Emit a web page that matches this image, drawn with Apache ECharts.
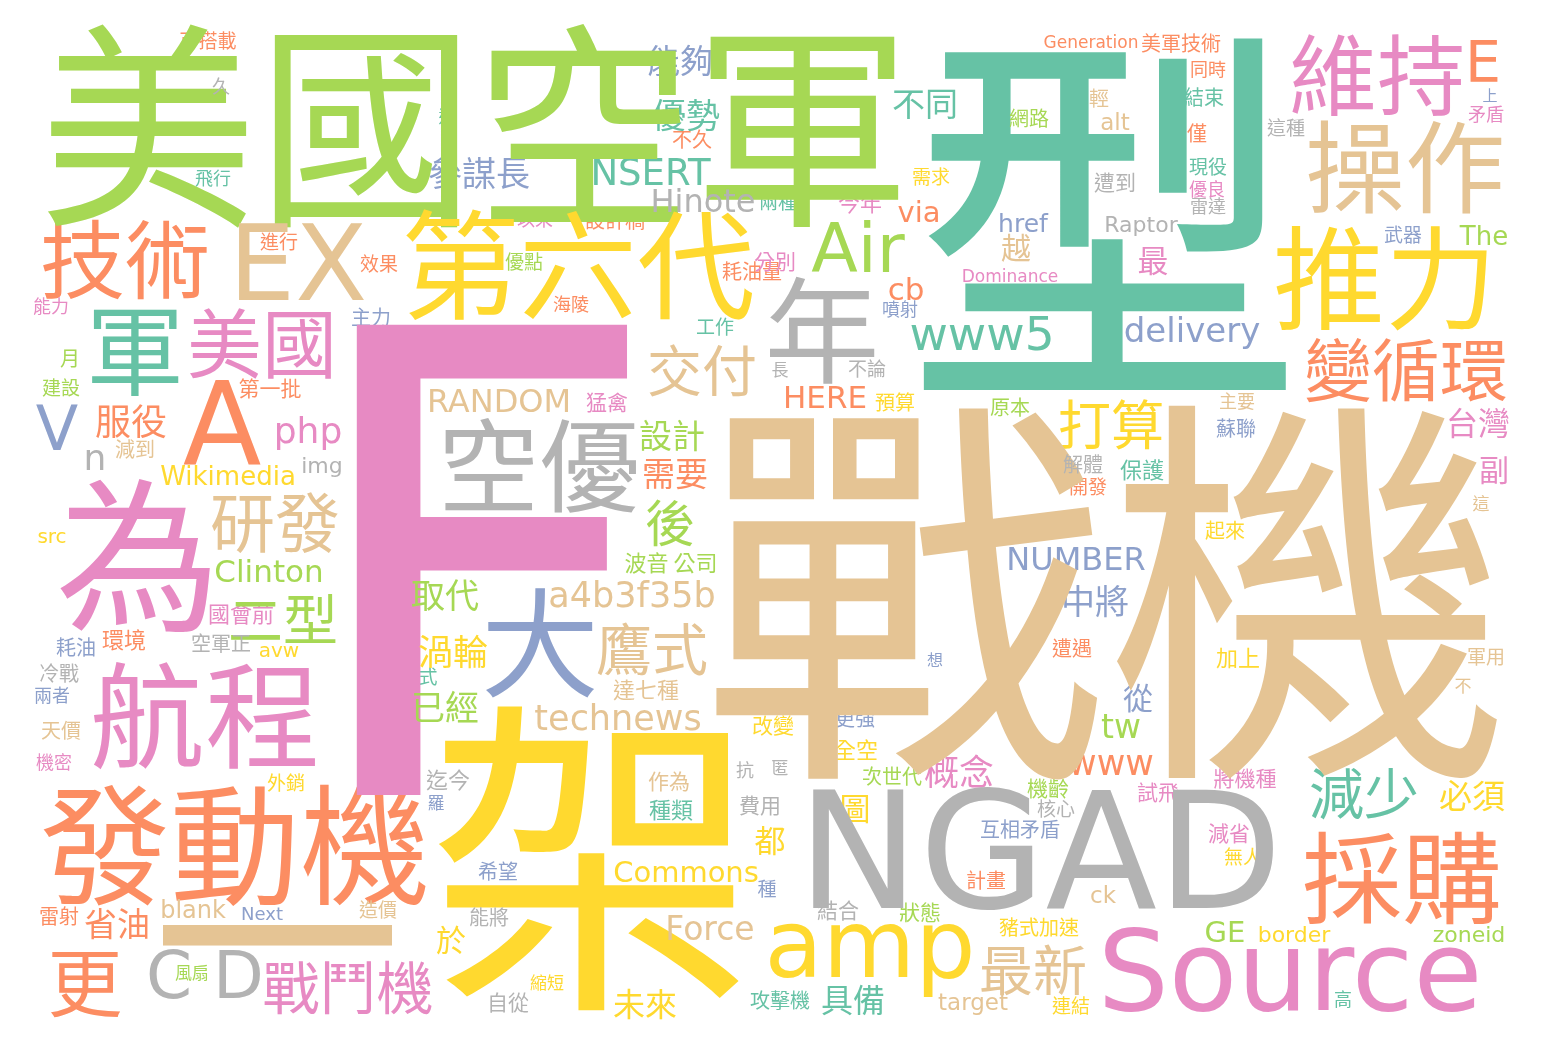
<!DOCTYPE html>
<html><head><meta charset="utf-8">
<script src="https://cdn.jsdelivr.net/npm/echarts@6/dist/echarts.min.js"></script>
<style>html,body{margin:0;padding:0;background:#fff}#c{width:1548px;height:1052px}</style>
</head><body><div id="c"></div>
<script>
// each entry: [word, weight (font px), cloudX, cloudY]
const tealWords = [
 ['型',400,1105,220],['軍',98,135,350],['飛行',18,213,178],['優勢',34,686,115],['INSERT',37,645,172],
 ['運',17,447,117],['兩種',19,778,202],['工作',19,715,327],['不同',33,925,103],['www5',47,982,333],
 ['結束',20,1204,97],['現役',19,1208,167],['保護',22,1142,470],['減少',55,1364,793],['高',18,1343,999],
 ['式',19,428,677],['種類',22,671,810],['攻擊機',20,780,1000],['具備',32,853,1000]
];
const orangeWords = [
 ['發動機',130,235,845],['技術',85,125,260],['A',115,222,424],['服役',36,131,421],['環境',22,124,640],
 ['雷射',20,59,916],['省油',33,117,923],['更',75,85,982],['第一批',21,270,388],['可搭載',19,208,41],
 ['進行',19,279,242],['效果',19,379,264],['不久',20,692,139],['設計稿',20,615,220],['耗油量',20,752,271],
 ['海陵',18,571,304],['via',29,919,212],['cb',31,906,289],['Generation',17,1091,42],['美軍技術',20,1181,43],
 ['同時',18,1208,69],['僅',20,1197,133],['E',57,1483,61],['變循環',68,1406,370],['開發',19,1088,487],
 ['HERE',31,825,397],['遭遇',20,1072,648],['www',35,1111,762],['採購',100,1402,878],['需要',33,675,473],
 ['計畫',20,986,880]
];
const blueWords = [
 ['V',62,57,428],['耗油',20,76,647],['兩者',18,52,695],['Next',18,262,914],['主力',20,371,317],
 ['能夠',33,680,60],['參謀長',34,479,173],['噴射',18,900,309],['href',25,1023,223],['delivery',34,1192,330],
 ['上',15,1490,95],['武器',19,1403,235],['蘇聯',20,1236,428],['NUMBER',32,1076,558],['中將',34,1095,601],
 ['想',16,935,660],['從',30,1138,698],['大',118,540,643],['羅',17,436,803],['希望',20,498,871],
 ['互相矛盾',20,1020,829],['更強',20,855,718],['種',19,767,889]
];
const pinkWords = [
 ['F',645,479,563],['為',165,138,555],['航程',115,205,715],['美國',75,262,343],['php',36,308,430],
 ['國會前',22,241,614],['機密',18,54,762],['戰鬥機',57,348,987],['能力',18,51,306],['以來',18,535,219],
 ['分別',21,775,261],['今年',22,860,203],['Dominance',17,1010,276],['優良',18,1207,189],['最',31,1153,260],
 ['維持',88,1377,75],['矛盾',18,1486,114],['台灣',32,1478,423],['副',30,1494,470],['試飛',21,1158,792],
 ['將機種',21,1245,778],['減省',21,1229,833],['Source',112,1290,970],['猛禽',21,607,402],['概念',35,959,772]
];
const greenWords = [
 ['美國空軍',218,475,126],['Clinton',31,269,571],['二型',55,283,619],['風扇',17,192,973],['月',20,70,358],
 ['建設',19,61,388],['優點',19,524,262],['Air',68,858,248],['網路',20,1029,118],['The',26,1484,236],
 ['原本',20,1010,407],['tw',33,1121,726],['GE',29,1225,932],['zoneid',22,1469,934],['設計',33,672,435],
 ['後',50,670,523],['波音 公司',22,671,563],['取代',34,445,595],['已經',34,445,707],['狀態',21,920,912],
 ['機齡',21,1048,788],['次世代',20,892,776]
];
const yellowWords = [
 ['架',330,592,858],['Wikimedia',26,228,476],['src',20,52,536],['avw',20,279,650],['外銷',19,286,783],
 ['第六代',118,578,265],['需求',19,931,177],['推力',112,1385,278],['起來',20,1225,530],['打算',53,1111,425],
 ['預算',20,895,402],['加上',22,1238,658],['必須',33,1472,795],['無人',19,1243,857],['border',22,1294,934],
 ['amp',95,870,943],['渦輪',35,453,652],['Commons',29,686,872],['於',30,451,940],['縮短',17,547,983],
 ['未來',32,645,1004],['連結',19,1071,1006],['豬式加速',20,1039,927],['圖',31,855,808],['全空',22,856,750],
 ['改變',21,773,725],['都',31,770,840]
];
const tanWords = [
 ['戰機',405,1106,592],['EX',105,298,262],['減到',20,135,449],['研發',65,275,522],['天價',20,61,730],
 ['造價',19,378,910],['一',250,277,938],['blank',24,193,909],['交付',55,702,370],['越',30,1016,248],
 ['輕',20,1099,98],['alt',23,1115,122],['操作',100,1405,167],['主要',18,1237,401],['這',17,1481,504],
 ['軍用',19,1486,657],['不',17,1463,686],['RANDOM',32,499,400],['鷹式',56,652,649],['a4b3f35b',35,632,594],
 ['達七種',22,646,690],['technews',35,618,717],['作為',21,669,781],['Force',33,710,928],['target',23,973,1002],
 ['ck',23,1103,895],['最新',54,1033,970]
];
const grayWords = [
 ['NGAD',163,1040,849],['年',115,822,330],['n',36,95,457],['img',22,322,465],['空軍正',20,221,643],
 ['冷戰',20,59,673],['C D',66,205,974],['久',18,221,86],['Hinote',32,703,200],['這種',19,1286,128],
 ['遭到',21,1115,182],['雷達',18,1208,206],['Raptor',22,1141,224],['解體',20,1083,464],['長',17,780,370],
 ['不論',19,867,369],['空優',101,539,466],['迄今',22,448,780],['能將',20,489,917],['自從',21,508,1002],
 ['結合',21,838,910],['核心',19,1056,809],['匿',17,780,768],['抗',18,745,770],['費用',21,760,805]
];

const palette = {teal:'#66c2a5', orange:'#fc8d62', blue:'#8da0cb', pink:'#e78ac3',
  green:'#a6d854', yellow:'#ffd92f', tan:'#e5c494', gray:'#b3b3b3'};
const groups = [['teal',tealWords],['orange',orangeWords],['blue',blueWords],['pink',pinkWords],
  ['green',greenWords],['yellow',yellowWords],['tan',tanWords],['gray',grayWords]];

const CJK_FONT = '"Noto Sans CJK TC", "Noto Sans CJK SC", sans-serif';
const LATIN_FONT = '"DejaVu Sans", sans-serif';
const CJK_DY = 0, LAT_DY = -0.1;
const isLatin = w => /^[\x00-\x7f]+$/.test(w);

const series = groups.map(([name, list]) => ({
  type: 'scatter', name, symbol: 'circle', symbolSize: 1, silent: true,
  itemStyle: {color: 'rgba(255,255,255,0)', opacity: 1},
  emphasis: {disabled: true},
  data: list.map(([w, s, x, y]) => {
    const lat = isLatin(w);
    return {
      value: [x, y], name: w,
      label: {
        show: true, position: 'inside', formatter: w, fontSize: s,
        color: palette[name], fontFamily: lat ? LATIN_FONT : CJK_FONT,
        fontWeight: 'normal',
        align: 'center', verticalAlign: 'middle',
        offset: [0, -(lat ? LAT_DY : CJK_DY) * s]
      }
    };
  })
}));

const chart = echarts.init(document.getElementById('c'), null, {renderer: 'canvas'});
chart.setOption({
  animation: false,
  backgroundColor: '#ffffff',
  grid: {left: 0, right: 0, top: 0, bottom: 0},
  xAxis: {type: 'value', min: 0, max: 1548, show: false},
  yAxis: {type: 'value', min: 0, max: 1052, inverse: true, show: false},
  series
});
</script></body></html>
